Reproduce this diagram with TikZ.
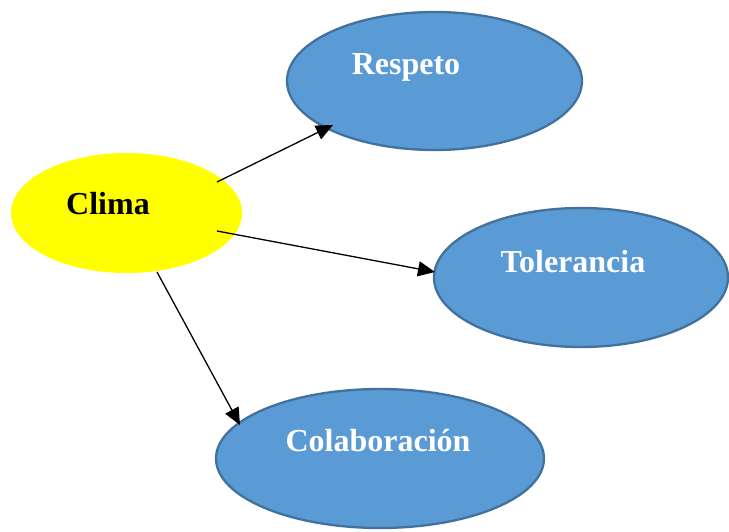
\documentclass[tikz,border=0pt]{standalone}
\usepackage{fontspec}
\setmainfont{Liberation Serif}
\usetikzlibrary{shapes.geometric,arrows.meta,calc}
\definecolor{bluefill}{HTML}{5B9BD5}
\definecolor{blueedge}{HTML}{41719C}
\definecolor{climayellow}{HTML}{FFFF00}
\begin{document}
\begin{tikzpicture}[x=1pt,y=-1pt,
  oval/.style={ellipse,inner sep=0pt,minimum width=#1},
  bluebox/.style={draw=blueedge,line width=2.3pt,fill=bluefill},
  lbl/.style={font=\bfseries\fontsize{32}{36}\selectfont,inner sep=0pt},
  conn/.style={line width=1.3pt,-{Triangle[length=17pt,width=15pt]}}]
\useasboundingbox (0,0) rectangle (729,532);
\node[oval=231pt,minimum height=120pt,fill=climayellow] (clima) at (126.5,213) {};
\node[oval=295pt,minimum height=138pt,bluebox] (respeto) at (434.5,81) {};
\node[oval=294pt,minimum height=139pt,bluebox] (tolerancia) at (581,277.5) {};
\node[oval=328pt,minimum height=139pt,bluebox] (colab) at (380,458.5) {};
\node[lbl,black] (tclima) at (108,204) {Clima};
\node[lbl,white] (trespeto) at (406,67) {Respeto};
\node[lbl,white] (ttol) at (573,262) {Tolerancia};
\node[lbl,white] (tcolab) at (378,441) {Colaboración};
\draw[conn] ($(clima.center)+(90.5,-31)$) -- ($(respeto.center)+(-101.5,44)$);
\draw[conn] ($(clima.center)+(90.5,18)$) -- ($(tolerancia.center)+(-146,-5.5)$);
\draw[conn] ($(clima.center)+(30.5,59)$) -- ($(colab.center)+(-140,-33.5)$);
\end{tikzpicture}
\end{document}
